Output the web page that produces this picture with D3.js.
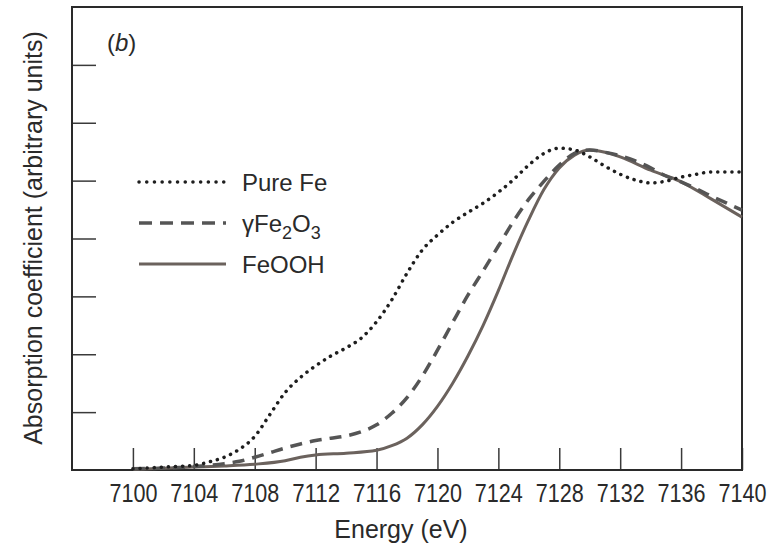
<!DOCTYPE html>
<html>
<head>
<meta charset="utf-8">
<script src="https://cdn.jsdelivr.net/npm/d3@7"></script>
<style>
  body { margin: 0; background: #fff; }
  text { font-family: "Liberation Sans", Arial, sans-serif; fill: #2a2a2a; }
</style>
</head>
<body>
<div id="chart"></div>
<script>
// energies (eV) and absorption values
var pureFeE = [7100, 7102, 7104, 7105, 7106, 7107, 7108, 7109, 7110, 7111, 7112, 7113, 7114, 7115, 7116, 7117, 7118, 7119, 7120, 7121, 7122, 7123, 7124, 7125, 7126, 7127, 7128, 7129, 7130, 7131, 7132, 7133, 7134, 7135, 7136, 7137, 7138, 7140];
var pureFeV = [0.02, 0.05, 0.08, 0.14, 0.22, 0.36, 0.58, 0.96, 1.34, 1.6, 1.8, 1.97, 2.11, 2.28, 2.56, 2.94, 3.4, 3.8, 4.06, 4.28, 4.45, 4.61, 4.8, 5.02, 5.27, 5.47, 5.56, 5.53, 5.41, 5.25, 5.11, 5.01, 4.96, 4.99, 5.06, 5.11, 5.15, 5.15];

var fe2o3E = [7100, 7104, 7106, 7107, 7108, 7109, 7110, 7111, 7112, 7113, 7114, 7115, 7116, 7117, 7118, 7119, 7120, 7121, 7122, 7123, 7124, 7125, 7126, 7127, 7128, 7129, 7130, 7131, 7132, 7133, 7134, 7135, 7136, 7137, 7138, 7139, 7140];
var fe2o3V = [0.02, 0.06, 0.11, 0.15, 0.22, 0.3, 0.38, 0.45, 0.51, 0.55, 0.59, 0.66, 0.78, 0.98, 1.25, 1.62, 2.07, 2.55, 3.02, 3.44, 3.87, 4.3, 4.68, 4.99, 5.27, 5.47, 5.53, 5.49, 5.43, 5.34, 5.22, 5.08, 4.98, 4.86, 4.73, 4.61, 4.49];

var feoohE = [7100, 7104, 7106, 7108, 7110, 7111, 7112, 7114, 7116, 7117, 7118, 7119, 7120, 7121, 7122, 7123, 7124, 7125, 7126, 7127, 7128, 7129, 7130, 7131, 7132, 7134, 7136, 7138, 7140];
var feoohV = [0.01, 0.05, 0.07, 0.1, 0.16, 0.22, 0.26, 0.29, 0.34, 0.42, 0.55, 0.78, 1.1, 1.5, 1.97, 2.5, 3.1, 3.74, 4.33, 4.85, 5.22, 5.44, 5.53, 5.49, 5.41, 5.18, 4.98, 4.68, 4.37];

var xTicks = [7100, 7104, 7108, 7112, 7116, 7120, 7124, 7128, 7132, 7136, 7140];
var yTicks = [1, 2, 3, 4, 5, 6, 7];

var W = 781, H = 546;
var plotL = 72, plotR = 742, plotT = 7, plotB = 470;

var svg = d3.select("#chart")
  .append("svg")
    .attr("width", W)
    .attr("height", H);

var x = d3.scaleLinear()
  .domain([7096, 7140])
  .range([plotL, plotR]);

var y = d3.scaleLinear()
  .domain([0, 8])
  .range([plotB, plotT]);

// ticks point inward, no y labels
svg.append("g")
    .attr("transform", "translate(0," + plotB + ")")
    .call(d3.axisBottom(x).tickValues(xTicks).tickSizeInner(-22).tickSizeOuter(0).tickPadding(14).tickFormat(d3.format("d")))
    .call(function(g) {
      g.select(".domain").remove();
      g.selectAll(".tick line").attr("stroke", "#3a3a3a").attr("stroke-width", 1.5);
      g.selectAll(".tick text").attr("font-size", 25).attr("fill", "#2a2a2a")
        .attr("font-family", "'Liberation Sans', Arial, sans-serif")
        .attr("textLength", 48)
        .attr("lengthAdjust", "spacingAndGlyphs");
    });

svg.append("g")
    .attr("transform", "translate(" + plotL + ",0)")
    .call(d3.axisLeft(y).tickValues(yTicks).tickSizeInner(-24).tickSizeOuter(0).tickFormat(""))
    .call(function(g) {
      g.select(".domain").remove();
      g.selectAll(".tick line").attr("stroke", "#3a3a3a").attr("stroke-width", 1.5);
    });

// frame
svg.append("rect")
    .attr("x", plotL)
    .attr("y", plotT)
    .attr("width", plotR - plotL)
    .attr("height", plotB - plotT)
    .attr("fill", "none")
    .attr("stroke", "#2a2a2a")
    .attr("stroke-width", 2);

var line = d3.line()
  .x(function(d) { return x(d[0]); })
  .y(function(d) { return y(d[1]); })
  .curve(d3.curveMonotoneX);

var series = [
  {e: feoohE, v: feoohV, color: "#6b625d", width: 3, dash: null, cap: "butt"},
  {e: fe2o3E, v: fe2o3V, color: "#555555", width: 3.5, dash: "12,8", cap: "butt"},
  {e: pureFeE, v: pureFeV, color: "#1e1e1e", width: 3.5, dash: "0.1,7", cap: "round"}
];

series.forEach(function(s) {
  svg.append("path")
    .datum(d3.zip(s.e, s.v))
    .attr("d", line)
    .attr("fill", "none")
    .attr("stroke", s.color)
    .attr("stroke-width", s.width)
    .attr("stroke-linecap", s.cap)
    .attr("stroke-dasharray", s.dash);
});

// legend
var legend = [
  {label: "Pure Fe", y: 182, color: "#1e1e1e", width: 3.5, dash: "0.1,7.6", cap: "round"},
  {label: "γFe2O3", y: 223, color: "#555555", width: 3.5, dash: "13,8", cap: "butt"},
  {label: "FeOOH", y: 264, color: "#6b625d", width: 3, dash: null, cap: "butt"}
];

legend.forEach(function(l) {
  svg.append("line")
    .attr("x1", 139).attr("x2", 226)
    .attr("y1", l.y).attr("y2", l.y)
    .attr("stroke", l.color)
    .attr("stroke-width", l.width)
    .attr("stroke-linecap", l.cap)
    .attr("stroke-dasharray", l.dash);
  var t = svg.append("text")
    .attr("x", 242)
    .attr("y", l.y + 9)
    .attr("font-size", 24);
  if (l.label === "γFe2O3") {
    t.append("tspan").text("γFe");
    t.append("tspan").attr("dy", 7).attr("font-size", 18).text("2");
    t.append("tspan").attr("dy", -7).text("O");
    t.append("tspan").attr("dy", 7).attr("font-size", 18).text("3");
  } else {
    t.text(l.label);
  }
});

// panel label
svg.append("text")
    .attr("x", 107)
    .attr("y", 51)
    .attr("font-size", 24)
    .attr("font-family", "'Liberation Serif', 'Times New Roman', serif")
    .html("(<tspan font-style='italic'>b</tspan>)");

svg.append("text")
    .attr("x", 401)
    .attr("y", 538)
    .attr("text-anchor", "middle")
    .attr("font-size", 25)
    .text("Energy (eV)");

svg.append("text")
    .attr("transform", "translate(42,238) rotate(-90)")
    .attr("text-anchor", "middle")
    .attr("font-size", 25)
    .text("Absorption coefficient (arbitrary units)");
</script>
</body>
</html>
